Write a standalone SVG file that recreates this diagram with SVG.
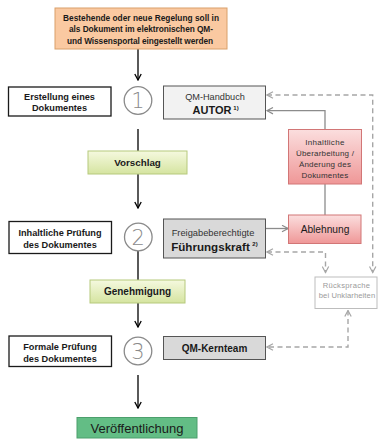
<svg xmlns="http://www.w3.org/2000/svg" width="378" height="441" viewBox="0 0 378 441">
<defs>
<linearGradient id="gGreen" x1="0" y1="0" x2="0" y2="1"><stop offset="0" stop-color="#f5f9df"/><stop offset="1" stop-color="#d5e4a0"/></linearGradient>
<linearGradient id="gRed" x1="0" y1="0" x2="0" y2="1"><stop offset="0" stop-color="#fbdede"/><stop offset="1" stop-color="#ef9797"/></linearGradient>
<marker id="aBlack" viewBox="0 0 8 8" refX="7" refY="4" markerWidth="8" markerHeight="8" markerUnits="userSpaceOnUse" orient="auto-start-reverse"><path d="M1,0.8 L7,4 L1,7.2" fill="none" stroke="#000" stroke-width="1.3"/></marker>
<marker id="aGray" viewBox="0 0 8 8" refX="7" refY="4" markerWidth="8" markerHeight="8" markerUnits="userSpaceOnUse" orient="auto-start-reverse"><path d="M1,0.8 L7,4 L1,7.2" fill="none" stroke="#8c8c8c" stroke-width="1.2"/></marker>
<marker id="aDash" viewBox="0 0 8 8" refX="7" refY="4" markerWidth="8" markerHeight="8" markerUnits="userSpaceOnUse" orient="auto-start-reverse"><path d="M1,0.8 L7,4 L1,7.2" fill="none" stroke="#a6a6a6" stroke-width="1.2"/></marker>
</defs>
<style>
text{font-family:"Liberation Sans",Arial,sans-serif;text-anchor:middle;dominant-baseline:central;}
.b{font-weight:bold;fill:#1a1a1a;}
.step{fill:#fff;stroke:#1a1a1a;stroke-width:1.3;}
.role{stroke:#555;stroke-width:1;}
.circ{fill:#fff;stroke:#8a8a8a;stroke-width:1.3;}
.num{font-family:"DejaVu Sans","Liberation Sans",sans-serif;font-weight:200;font-size:21px;fill:#8a8a8a;}
.flow{fill:none;stroke:#000;stroke-width:1.3;}
.solid{fill:none;stroke:#8c8c8c;stroke-width:1.3;}
.dash{fill:none;stroke:#a6a6a6;stroke-width:1.4;stroke-dasharray:5,3.5;}
</style>
<rect width="378" height="441" fill="#fff"/>

<g id="connectors">
<path class="flow" d="M138,49 V80" marker-end="url(#aBlack)"/>
<path class="flow" d="M138,129 V151"/>
<path class="flow" d="M138,174 V208" marker-end="url(#aBlack)"/>
<path class="flow" d="M138,251 V280"/>
<path class="flow" d="M138,303 V327" marker-end="url(#aBlack)"/>
<path class="flow" d="M138,375 V408" marker-end="url(#aBlack)"/>
<path class="solid" d="M325,129 V110.7 H267" marker-end="url(#aGray)"/>
<path class="solid" d="M325,184 V215"/>
<path class="solid" d="M266,228.5 H288" marker-end="url(#aGray)"/>
<path class="dash" d="M267,95 H372.7 V272.5" marker-start="url(#aDash)" marker-end="url(#aDash)"/>
<path class="dash" d="M267,252 H325.5 V272.5" marker-start="url(#aDash)" marker-end="url(#aDash)"/>
<path class="dash" d="M348,310.5 V347 H267" marker-start="url(#aDash)" marker-end="url(#aDash)"/>
</g>

<g id="start">
<rect x="55" y="8" width="172" height="41" fill="#fac9a1" stroke="#d9a06a" stroke-width="1"/>
<text class="b" x="141" y="18" font-size="8.3" textLength="156">Bestehende oder neue Regelung soll in</text>
<text class="b" x="141" y="29.3" font-size="8.3" textLength="144">als Dokument im elektronischen QM-</text>
<text class="b" x="140" y="40.5" font-size="8.3" textLength="146">und Wissensportal eingestellt werden</text>
</g>

<g id="step1">
<rect class="step" x="8.5" y="87" width="102.5" height="29"/>
<text class="b" x="59.5" y="96.5" font-size="9.2">Erstellung eines</text>
<text class="b" x="59.5" y="108" font-size="9.2">Dokumentes</text>
</g>
<g id="circle1">
<circle class="circ" cx="138" cy="100.5" r="13.8"/>
<text class="num" x="138" y="101">1</text>
</g>
<g id="autor">
<rect class="role" x="163.5" y="86" width="102" height="33" fill="#f2f2f2"/>
<text x="215" y="96.5" font-size="9.2" fill="#333">QM-Handbuch</text>
<text class="b" x="212" y="110" font-size="11">AUTOR</text>
<text class="b" x="236" y="108" font-size="6">1)</text>
</g>
<g id="vorschlag">
<rect x="88" y="151" width="99" height="23" fill="url(#gGreen)" stroke="#b6c97c" stroke-width="1"/>
<text class="b" x="137.5" y="162.5" font-size="9.8">Vorschlag</text>
</g>

<g id="ueberarbeitung">
<rect x="288.5" y="129.5" width="73" height="54.5" fill="url(#gRed)" stroke="#d27676" stroke-width="1"/>
<text x="325" y="142.5" font-size="8" fill="#333" letter-spacing="0.3">Inhaltliche</text>
<text x="325" y="153.3" font-size="8" fill="#333" letter-spacing="0.2">Überarbeitung /</text>
<text x="325" y="164" font-size="8" fill="#333" letter-spacing="0.2">Änderung des</text>
<text x="325" y="175" font-size="8" fill="#333" letter-spacing="0.2">Dokumentes</text>
</g>
<g id="ablehnung">
<rect x="288.5" y="215" width="72.5" height="28.5" fill="url(#gRed)" stroke="#d27676" stroke-width="1"/>
<text x="325" y="229.3" font-size="10.2" fill="#1a1a1a">Ablehnung</text>
</g>

<g id="step2">
<rect class="step" x="9" y="221.5" width="102.5" height="32"/>
<text class="b" x="60" y="233" font-size="9.2">Inhaltliche Prüfung</text>
<text class="b" x="60" y="245" font-size="9.2">des Dokumentes</text>
</g>
<g id="circle2">
<circle class="circ" cx="138.3" cy="237" r="13.8"/>
<text class="num" x="138.3" y="237.5">2</text>
</g>
<g id="fuehrungskraft">
<rect class="role" x="163.5" y="219" width="102" height="39" fill="#d9d9d9"/>
<text x="213" y="232.5" font-size="9.3" fill="#333">Freigabeberechtigte</text>
<text class="b" x="210.5" y="246" font-size="11.6">Führungskraft</text>
<text class="b" x="255" y="244" font-size="6">2)</text>
</g>
<g id="genehmigung">
<rect x="90" y="280" width="95" height="23" fill="url(#gGreen)" stroke="#b6c97c" stroke-width="1"/>
<text class="b" x="137.5" y="291.5" font-size="10">Genehmigung</text>
</g>

<g id="ruecksprache">
<rect x="315" y="277" width="62" height="31.5" fill="#fff" stroke="#bdbdbd" stroke-width="1"/>
<text x="346.5" y="285.5" font-size="7.6" fill="#9a9a9a" letter-spacing="0.3">Rücksprache</text>
<text x="347" y="295.5" font-size="7.6" fill="#9a9a9a" letter-spacing="0.1">bei Unklarheiten</text>
</g>

<g id="step3">
<rect class="step" x="9" y="336" width="102.5" height="30.5"/>
<text class="b" x="60" y="346.5" font-size="9.2">Formale Prüfung</text>
<text class="b" x="60" y="358.5" font-size="9.2">des Dokumentes</text>
</g>
<g id="circle3">
<circle class="circ" cx="138" cy="351" r="13.8"/>
<text class="num" x="138" y="351.5">3</text>
</g>
<g id="kernteam">
<rect class="role" x="163.5" y="336.5" width="102" height="23" fill="#d9d9d9"/>
<text class="b" x="214.5" y="348" font-size="10">QM-Kernteam</text>
</g>

<g id="veroeffentlichung">
<rect x="77" y="417.5" width="120" height="20.5" fill="#63bd85" stroke="#4c9f6c" stroke-width="1"/>
<text x="137" y="428.5" font-size="13" fill="#1a1a1a">Veröffentlichung</text>
</g>
</svg>
